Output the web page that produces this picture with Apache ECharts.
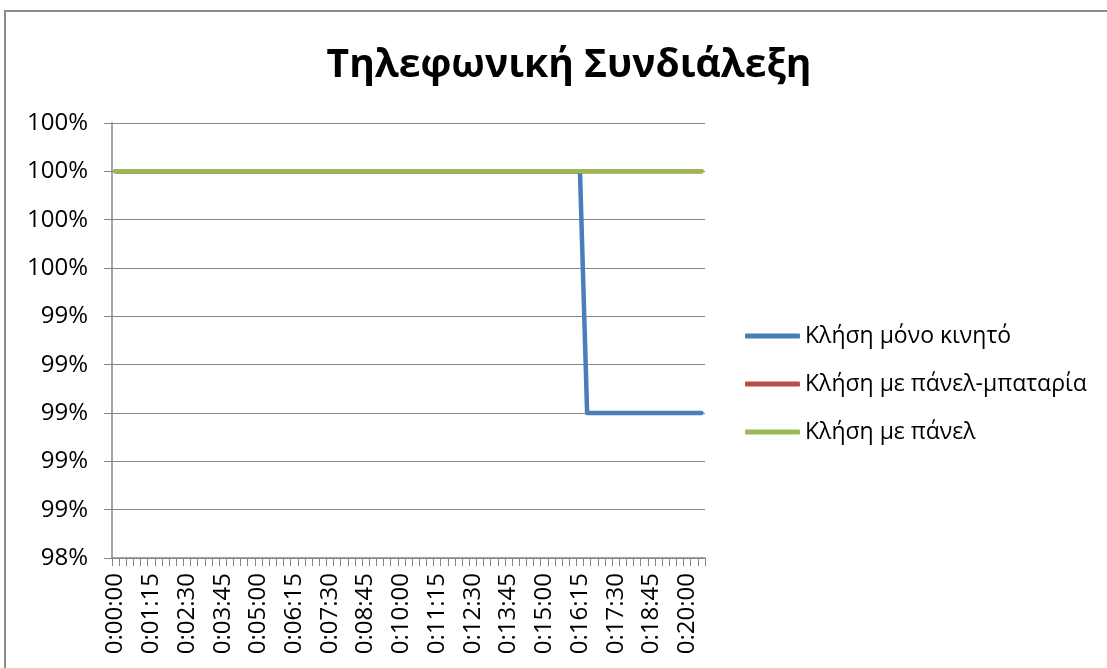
<!DOCTYPE html>
<html>
<head>
<meta charset="utf-8">
<script src="https://cdn.jsdelivr.net/npm/echarts@6/dist/echarts.min.js"></script>
<style>
  html, body { margin: 0; padding: 0; background: #fff; }
  #chart { width: 1107px; height: 668px; }
</style>
</head>
<body>
<div id="chart"></div>
<script>
// Elapsed call time, one sample every 15 seconds
const times = [
  '0:00:00','0:00:15','0:00:30','0:00:45','0:01:00','0:01:15','0:01:30','0:01:45','0:02:00','0:02:15',
  '0:02:30','0:02:45','0:03:00','0:03:15','0:03:30','0:03:45','0:04:00','0:04:15','0:04:30','0:04:45',
  '0:05:00','0:05:15','0:05:30','0:05:45','0:06:00','0:06:15','0:06:30','0:06:45','0:07:00','0:07:15',
  '0:07:30','0:07:45','0:08:00','0:08:15','0:08:30','0:08:45','0:09:00','0:09:15','0:09:30','0:09:45',
  '0:10:00','0:10:15','0:10:30','0:10:45','0:11:00','0:11:15','0:11:30','0:11:45','0:12:00','0:12:15',
  '0:12:30','0:12:45','0:13:00','0:13:15','0:13:30','0:13:45','0:14:00','0:14:15','0:14:30','0:14:45',
  '0:15:00','0:15:15','0:15:30','0:15:45','0:16:00','0:16:15','0:16:30','0:16:45','0:17:00','0:17:15',
  '0:17:30','0:17:45','0:18:00','0:18:15','0:18:30','0:18:45','0:19:00','0:19:15','0:19:30','0:19:45',
  '0:20:00','0:20:15','0:20:30'
];

// Battery level (fraction) for each call setup
const phoneOnly = [
  1,1,1,1,1,1,1,1,1,1, 1,1,1,1,1,1,1,1,1,1,
  1,1,1,1,1,1,1,1,1,1, 1,1,1,1,1,1,1,1,1,1,
  1,1,1,1,1,1,1,1,1,1, 1,1,1,1,1,1,1,1,1,1,
  1,1,1,1,1,1,0.99,0.99,0.99,0.99, 0.99,0.99,0.99,0.99,0.99,0.99,0.99,0.99,0.99,0.99,
  0.99,0.99,0.99
];
const panelBattery = [
  1,1,1,1,1,1,1,1,1,1, 1,1,1,1,1,1,1,1,1,1,
  1,1,1,1,1,1,1,1,1,1, 1,1,1,1,1,1,1,1,1,1,
  1,1,1,1,1,1,1,1,1,1, 1,1,1,1,1,1,1,1,1,1,
  1,1,1,1,1,1,1,1,1,1, 1,1,1,1,1,1,1,1,1,1,
  1,1,1
];
const panelOnly = [
  1,1,1,1,1,1,1,1,1,1, 1,1,1,1,1,1,1,1,1,1,
  1,1,1,1,1,1,1,1,1,1, 1,1,1,1,1,1,1,1,1,1,
  1,1,1,1,1,1,1,1,1,1, 1,1,1,1,1,1,1,1,1,1,
  1,1,1,1,1,1,1,1,1,1, 1,1,1,1,1,1,1,1,1,1,
  1,1,1
];

const seriesNames = ['Κλήση μόνο κινητό', 'Κλήση με πάνελ-μπαταρία', 'Κλήση με πάνελ'];
const titleText = 'Τηλεφωνική Συνδιάλεξη';

const FONT = '"Open Sans", "Noto Sans", sans-serif';
const GRID_COLOR = '#868686';

const chart = echarts.init(document.getElementById('chart'), null, { renderer: 'canvas' });

function lineSeries(name, data, color) {
  return {
    name: name,
    type: 'line',
    data: data,
    symbol: 'none',
    lineStyle: { color: color, width: 4.5, cap: 'round', join: 'round' },
    itemStyle: { color: color },
    animation: false
  };
}

chart.setOption({
  backgroundColor: '#fff',
  animation: false,
  graphic: [{
    type: 'rect',
    shape: { x: 5, y: 11, width: 1200, height: 800 },
    style: { fill: 'none', stroke: '#8c8c8c', lineWidth: 2 },
    silent: true,
    z: 0
  }],
  title: {
    text: titleText,
    left: 564,
    textAlign: 'center',
    top: 41,
    textStyle: { fontFamily: FONT, fontWeight: 'bold', fontSize: 39, color: '#000' }
  },
  legend: {
    orient: 'vertical',
    left: 740,
    top: 318,
    itemWidth: 55,
    itemHeight: 5,
    itemGap: 22,
    icon: 'roundRect',
    data: seriesNames,
    textStyle: { fontFamily: FONT, fontSize: 23, color: '#000', lineHeight: 26 }
  },
  grid: { left: 112, right: 402, top: 123, bottom: 110 },
  xAxis: {
    type: 'category',
    data: times,
    boundaryGap: true,
    axisLine: { lineStyle: { color: GRID_COLOR, width: 1.5 } },
    axisTick: { show: true, interval: 0, length: 8, lineStyle: { color: GRID_COLOR } },
    axisLabel: {
      interval: 4,
      rotate: 90,
      margin: 15,
      fontFamily: FONT,
      fontSize: 24,
      color: '#000'
    },
    splitLine: { show: false }
  },
  yAxis: {
    type: 'value',
    min: 0.984,
    max: 1.002,
    interval: 0.002,
    axisLine: { show: true, lineStyle: { color: GRID_COLOR, width: 1.5 } },
    axisTick: { show: true, length: 8, lineStyle: { color: GRID_COLOR } },
    axisLabel: {
      margin: 24,
      fontFamily: FONT,
      fontSize: 24,
      color: '#000',
      formatter: v => Math.round(v * 100) + '%'
    },
    splitLine: { show: true, lineStyle: { color: GRID_COLOR, width: 1.2 } }
  },
  series: [
    lineSeries(seriesNames[0], phoneOnly, '#4A7EBB'),
    lineSeries(seriesNames[1], panelBattery, '#BE4B48'),
    lineSeries(seriesNames[2], panelOnly, '#98B954')
  ]
});
</script>
</body>
</html>
